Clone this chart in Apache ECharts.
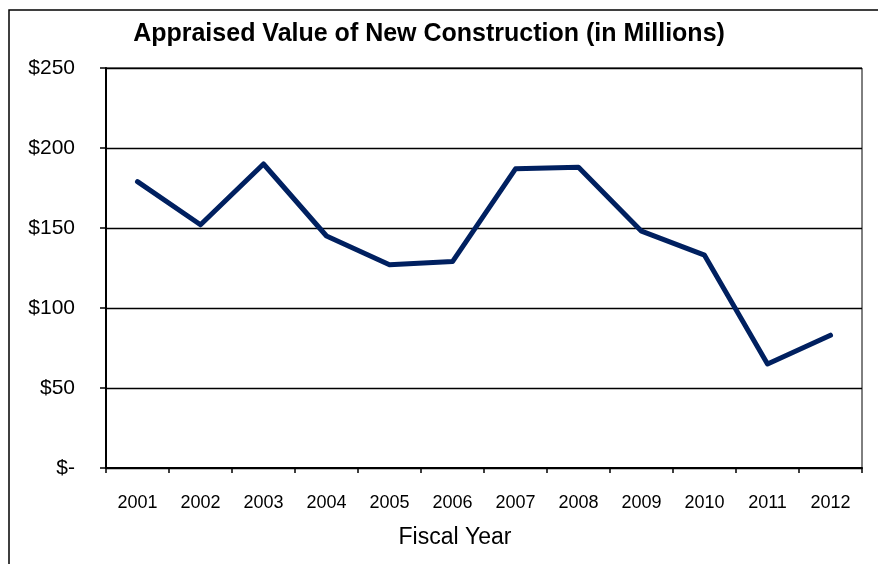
<!DOCTYPE html>
<html>
<head>
<meta charset="utf-8">
<script src="https://cdn.jsdelivr.net/npm/echarts@6/dist/echarts.min.js"></script>
<style>
  html, body { margin: 0; padding: 0; background: #fff; }
  #chart { width: 878px; height: 564px; }
</style>
</head>
<body>
<div id="chart"></div>
<script>
// 财年 / 新建筑评估值（百万美元）
const years = ['2001', '2002', '2003', '2004', '2005', '2006', '2007', '2008', '2009', '2010', '2011', '2012']
const appraisedValues = [179, 152, 190, 145, 127, 129, 187, 188, 148, 133, 65, 83]
const yTicks = [0, 50, 100, 150, 200, 250]

let chart = echarts.init(document.getElementById('chart'))
let font = 'Liberation Sans, Arial, sans-serif'
let options = {
  animation: false,
  textStyle: { fontFamily: font },
  title: {
    text: 'Appraised Value of New Construction (in Millions)',
    left: 424,
    textAlign: 'center',
    top: 17,
    textStyle: { fontSize: 25, fontWeight: 'bold', color: '#000', fontFamily: font }
  },
  // 外框
  graphic: [{
    type: 'rect',
    shape: { x: 9, y: 10, width: 900, height: 600 },
    style: { fill: null, stroke: '#000', lineWidth: 1.5 },
    silent: true
  }],
  grid: {
    left: 106,
    right: 16,
    top: 68,
    bottom: 96,
    show: true,
    borderColor: '#000',
    borderWidth: 1
  },
  xAxis: {
    type: 'category',
    data: years,
    boundaryGap: true,
    name: 'Fiscal Year',
    nameLocation: 'middle',
    nameGap: 58,
    nameTextStyle: { fontSize: 23, color: '#000', fontFamily: font, padding: [0, 58, 0, 0] },
    axisLine: { lineStyle: { color: '#000', width: 2 } },
    axisTick: { show: true, length: 5, lineStyle: { color: '#000', width: 1.5 } },
    axisLabel: { color: '#000', fontSize: 18, margin: 26, fontFamily: font }
  },
  yAxis: {
    type: 'value',
    min: yTicks[0],
    max: yTicks[yTicks.length - 1],
    interval: 50,
    axisLine: { show: true, lineStyle: { color: '#000', width: 2 } },
    axisTick: { show: true, length: 6, lineStyle: { color: '#000', width: 1.5 } },
    axisLabel: {
      color: '#000',
      fontSize: 21,
      margin: 31,
      fontFamily: font,
      formatter: v => v === 0 ? '$-' : '$' + v
    },
    splitLine: { show: true, lineStyle: { color: '#000', width: 1.3 } }
  },
  series: [{
    type: 'line',
    data: appraisedValues,
    symbol: 'none',
    lineStyle: { color: '#002060', width: 5, cap: 'round', join: 'round' }
  }]
}
chart.setOption(options)
</script>
</body>
</html>
